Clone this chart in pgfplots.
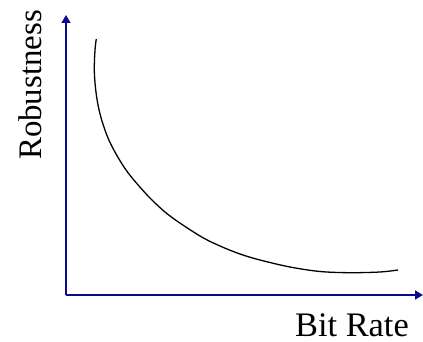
\documentclass[border=0pt]{standalone}
\usepackage{pgfplots}
\pgfplotsset{compat=1.18}
\usepackage{fontspec}
\setmainfont{Liberation Serif}
\usetikzlibrary{arrows.meta}
\definecolor{axnavy}{RGB}{10,10,140}
\begin{document}
\begin{tikzpicture}[x=1bp,y=1bp]
\useasboundingbox (0,0) rectangle (423,342);
\begin{axis}[
  at={(66bp,47bp)}, anchor=origin,
  scale only axis, width=357bp, height=280bp,
  xmin=0, xmax=357, ymin=0, ymax=280,
  axis lines=left,
  axis line style={axnavy, line width=1.5pt, -{Triangle[length=8pt,width=9pt]}},
  xtick=\empty, ytick=\empty,
  clip=false,
]
\addplot[black, line width=1.3pt, smooth, tension=0.55] coordinates {
(30.3,256) (29,245) (28.3,225) (29.5,207) (32,190) (36,174) (42,157) (49.5,142)
(58,128) (67,116) (84,97) (104,79) (134,59) (154,49) (174,41) (194,35)
(224,28) (254,23.5) (284,22.3) (314,23) (332,25)
};
\node[font=\fontsize{34.5}{38}\selectfont, anchor=base, inner sep=0pt] at (axis cs:286,-41) {Bit Rate};
\node[font=\fontsize{33}{36}\selectfont, rotate=90, anchor=center] at (axis cs:-36,210) {Robustness};
\end{axis}
\end{tikzpicture}
\end{document}
